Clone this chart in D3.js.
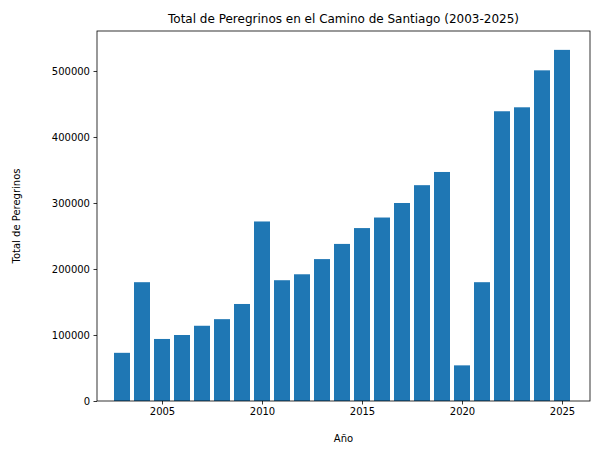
<!DOCTYPE html>
<html><head><meta charset="utf-8">
<script src="https://cdn.jsdelivr.net/npm/d3@7/dist/d3.min.js"></script>
<style>body{margin:0;background:#fff}text{font-family:"DejaVu Sans",sans-serif}</style>
</head><body><svg id="c" width="597" height="455"></svg>
<script>
const years=[2003,2004,2005,2006,2007,2008,2009,2010,2011,2012,2013,2014,2015,2016,2017,2018,2019,2020,2021,2022,2023,2024,2025];
const values=[73000,180000,94000,100000,114000,124000,147000,272000,183000,192000,215000,238000,262000,278000,300000,327000,347000,54000,180000,439000,445000,501000,532000];
const yTicks=[0,100000,200000,300000,400000,500000];
const xTicks=[2005,2010,2015,2020,2025];
const L=97,R=590,T=31,B=401;
const svg=d3.select("#c");
const x=d3.scaleLinear().domain([2001.75,2026.4]).range([L,R]);
const y=d3.scaleLinear().domain([0,560600]).range([B,T]);
svg.selectAll("rect.b").data(years).join("rect").attr("class","b")
 .attr("x",d=>x(d-0.4)).attr("width",x(0.8)-x(0)).attr("y",(d,i)=>y(values[i])).attr("height",(d,i)=>B-y(values[i])).attr("fill","#1f77b4");
const ax=svg.append("g").attr("transform",`translate(0,${B})`).call(d3.axisBottom(x).tickValues(xTicks).tickFormat(d3.format("d")).tickSizeOuter(0).tickSize(3.5).tickPadding(3.5));
const ay=svg.append("g").attr("transform",`translate(${L},0)`).call(d3.axisLeft(y).tickValues(yTicks).tickFormat(d3.format("d")).tickSizeOuter(0).tickSize(3.5).tickPadding(3.5));
[ax,ay].forEach(a=>{a.select(".domain").remove();a.selectAll("text").attr("font-size",10).attr("fill","#000").attr("font-family","DejaVu Sans");a.selectAll("line").attr("stroke","#000").attr("stroke-width",0.8);});
svg.append("rect").attr("x",L).attr("y",T).attr("width",R-L).attr("height",B-T).attr("fill","none").attr("stroke","#000").attr("stroke-width",0.8);
svg.append("text").attr("x",(L+R)/2).attr("y",T-8).attr("text-anchor","middle").attr("font-size",12).text("Total de Peregrinos en el Camino de Santiago (2003-2025)");
svg.append("text").attr("x",(L+R)/2).attr("y",442).attr("text-anchor","middle").attr("font-size",10).text("Año");
svg.append("text").attr("transform",`translate(20,${(T+B)/2}) rotate(-90)`).attr("text-anchor","middle").attr("font-size",10).text("Total de Peregrinos");
</script></body></html>
